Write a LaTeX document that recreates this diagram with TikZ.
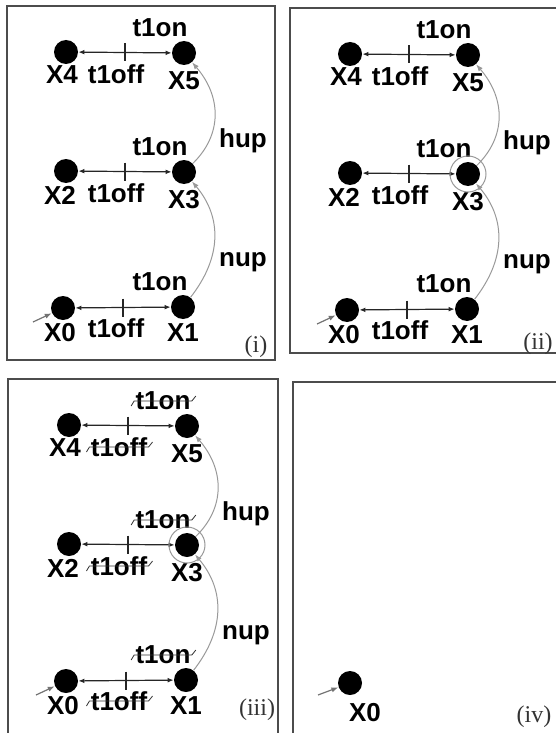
\documentclass[tikz,border=0pt]{standalone}
\usepackage{fontspec}
\setmainfont{Liberation Sans}
\newfontfamily\tagfont{Liberation Serif}
\usetikzlibrary{arrows.meta}
\begin{document}
\begin{tikzpicture}[x=0.5pt,y=-0.5pt,
    state/.style={circle,fill=black,minimum size=12pt,inner sep=0pt},
    lbl/.style={inner sep=0pt,font=\bfseries\fontsize{13}{14}\selectfont},
    tag/.style={inner sep=0pt,font=\tagfont\fontsize{12}{14}\selectfont,text=black!80},
    panel/.style={draw=black!70,line width=0.8pt},
    trans/.style={{Latex[length=3pt,width=2.4pt]}-{Latex[length=3pt,width=2.4pt]},black!85,line width=0.6pt},
    tick/.style={black!85,line width=0.6pt},
    up/.style={-{Latex[length=3.5pt,width=2.6pt]},black!40,line width=0.5pt},
    init/.style={-{Latex[length=3.5pt,width=2.6pt]},black!55,line width=0.6pt},
    ring/.style={draw=black!40,line width=0.5pt,circle,minimum size=18pt,inner sep=0pt},
    strike/.style={black!80,line width=0.4pt}]
    \useasboundingbox (0,0) rectangle (556,733);

    % Panel frames
    \draw[panel] (7,6) rectangle (275,360);
    \draw[panel] (290,8) rectangle (575,353);
    \draw[panel] (8,379) rectangle (278,750);
    \draw[panel] (293,382) rectangle (575,750);

    % Panels (i)-(iii): the same automaton
    \foreach \p/\dx/\dy in {a/0/0,b/284/2,c/3/373} {
        \begin{scope}[shift={(\dx,\dy)}]
            \node[state] (\p-x4) at (66,52) {};
            \node[state] (\p-x5) at (184,53) {};
            \node[state] (\p-x2) at (66,171) {};
            \node[state] (\p-x3) at (184,172) {};
            \node[state] (\p-x0) at (63,308) {};
            \node[state] (\p-x1) at (183,307) {};
            \node[lbl] (\p-n4) at (62,75) {X4};
            \node[lbl] (\p-n5) at (184,81) {X5};
            \node[lbl] (\p-n2) at (60,195) {X2};
            \node[lbl] (\p-n3) at (184,200) {X3};
            \node[lbl] (\p-n0) at (60,333) {X0};
            \node[lbl] (\p-n1) at (183,333) {X1};
            % t1on / t1off between the pairs
            \foreach \l/\r/\y in {4/5/53,2/3/172,0/1/307} {
                \draw[trans] (\p-x\l) -- coordinate[midway] (\p-t\r) (\p-x\r);
                \draw[tick] ([yshift=4.5pt]\p-t\r) -- ([yshift=-4.5pt]\p-t\r);
                \node[lbl] (\p-on\r) at (160,\y-25) {t1on};
                \node[lbl] (\p-off\r) at (116,\y+21) {t1off};
            }
            % up moves
            \draw[up] (\p-x1) .. controls (222,257) and (222,217) .. (\p-x3);
            \draw[up] (\p-x3) .. controls (222,135) and (222,97) .. (\p-x5);
            \node[lbl] (\p-nup) at (243,262) {nup};
            \node[lbl] (\p-hup) at (243,141) {hup};
            \coordinate (\p-in) at (33,322);
            \draw[init] (\p-in) -- (\p-x0);
        \end{scope}
    }

    % Marked state in (ii) and (iii)
    \node[ring] (b-ring) at (b-x3) {};
    \node[ring] (c-ring) at (c-x3) {};

    % Struck-out labels in (iii)
    \foreach \n in {c-on5,c-on3,c-on1,c-off5,c-off3,c-off1}
        \draw[strike] ([xshift=-2pt,yshift=-2.5pt]\n.west) -- ([xshift=-0.5pt]\n.west)
            -- ([xshift=0.5pt]\n.east) -- ([xshift=2.5pt,yshift=2.5pt]\n.east);

    % Panel (iv): only the initial state
    \node[state] (d-x0) at (350,683) {};
    \node[lbl] (d-n0) at (365,713) {X0};
    \coordinate (d-in) at (318,695);
    \draw[init] (d-in) -- (d-x0);

    % Panel tags
    \node[tag] (tag1) at (256,347) {(i)};
    \node[tag] (tag2) at (538,344) {(ii)};
    \node[tag] (tag3) at (257,710) {(iii)};
    \node[tag] (tag4) at (534,717) {(iv)};
\end{tikzpicture}
\end{document}
